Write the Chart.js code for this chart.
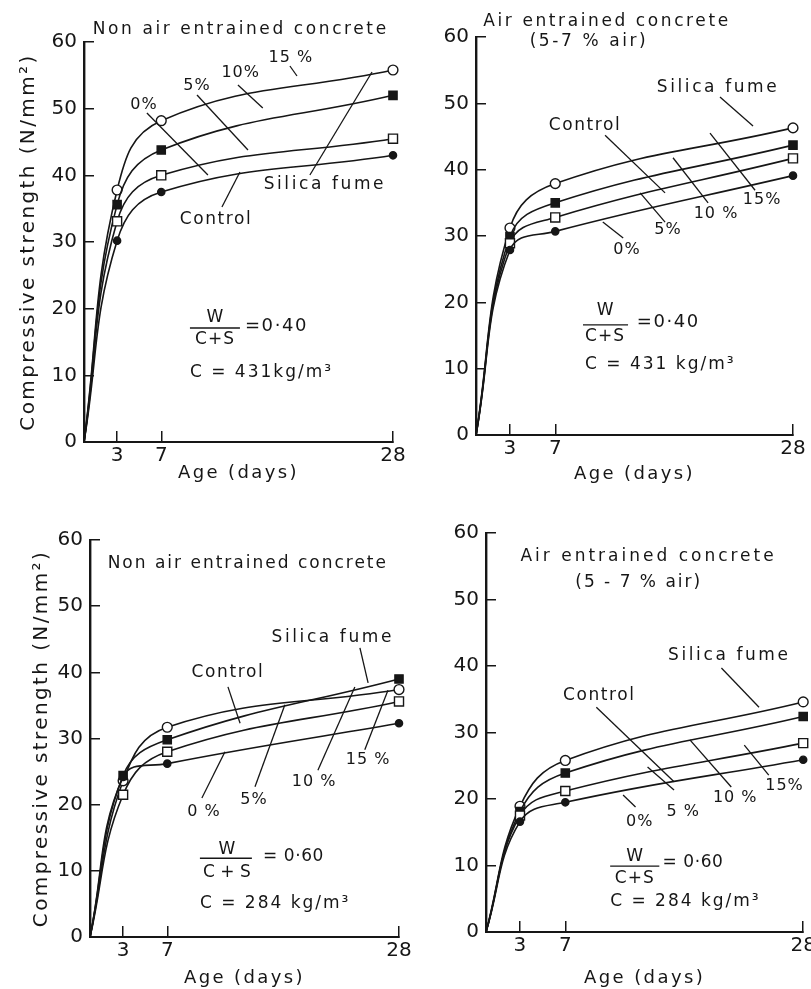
<!DOCTYPE html>
<html>
<head>
<meta charset="utf-8">
<title>Compressive strength development of silica fume concrete</title>
<script src="https://cdn.jsdelivr.net/npm/chart.js@4.4.1/dist/chart.umd.min.js"></script>
<style>
  html, body { margin: 0; padding: 0; background: #fff; }
  #sheet { position: relative; width: 811px; height: 989px; overflow: hidden; }
  #sheet canvas { position: absolute; left: 0; top: 0; }
</style>
</head>
<body>
<div id="sheet">
  <canvas id="p1" width="811" height="989"></canvas>
  <canvas id="p2" width="811" height="989"></canvas>
  <canvas id="p3" width="811" height="989"></canvas>
  <canvas id="p4" width="811" height="989"></canvas>
</div>
<script>
// ages and axis ticks
const days = [0, 3, 7, 28];
const xTicks = [3, 7, 28];
const yTicks = [0, 10, 20, 30, 40, 50, 60];
const mixes = ['0%', '5%', '10%', '15%'];   // silica fume replacement (0% = control)

// top left: non air entrained, W/(C+S) = 0.40
const a0  = [0, 30.2, 37.5, 43.0];
const a5  = [0, 33.1, 40.0, 45.5];
const a10 = [0, 35.6, 43.8, 52.0];
const a15 = [0, 37.8, 48.2, 55.8];

// top right: air entrained, W/(C+S) = 0.40
const b0  = [0, 27.9, 30.7, 39.1];
const b5  = [0, 28.9, 32.8, 41.7];
const b10 = [0, 29.9, 35.0, 43.7];
const b15 = [0, 31.2, 37.9, 46.3];

// bottom left: non air entrained, W/(C+S) = 0.60
const c0  = [0, 24.2, 26.2, 32.3];
const c5  = [0, 21.5, 28.0, 35.6];
const c10 = [0, 24.4, 29.8, 39.0];
const c15 = [0, 23.6, 31.7, 37.4];

// bottom right: air entrained, W/(C+S) = 0.60
const d0  = [0, 16.6, 19.5, 25.9];
const d5  = [0, 17.5, 21.2, 28.4];
const d10 = [0, 18.1, 23.9, 32.4];
const d15 = [0, 18.9, 25.8, 34.6];

const ink = '#161616';
Chart.defaults.font.family = '"DejaVu Sans", sans-serif';
Chart.defaults.color = ink;

const marks = [
  { style: 'circle', r: 3.6, fill: ink },
  { style: 'rect',   r: 6.4, fill: '#fff' },
  { style: 'rect',   r: 5.8, fill: ink },
  { style: 'circle', r: 4.9, fill: '#fff' }
];

// labels and leader lines, in (days, N/mm2)
const notesA = {
  labels: [
    { t: 'Non air entrained concrete', x: 14.2, y: 61.8, s: 17, sp: 2.6 },
    { t: '15 %', x: 18.75, y: 57.6, s: 16, sp: 1 },
    { t: '10%', x: 14.2, y: 55.35, s: 16, sp: 1 },
    { t: '5%', x: 10.24, y: 53.4, s: 16, sp: 1 },
    { t: '0%', x: 5.43, y: 50.55, s: 16, sp: 1 },
    { t: 'Silica fume', x: 21.83, y: 38.55, s: 17, sp: 2.6 },
    { t: 'Control', x: 11.96, y: 33.3, s: 17, sp: 1.6 },
    { t: 'W', x: 11.87, y: 18.7, s: 17, sp: 0 },
    { t: 'C+S', x: 11.87, y: 15.3, s: 17, sp: 1 },
    { t: '=0·40', x: 14.58, y: 17.4, s: 18, sp: 1.6, a: 'left' },
    { t: 'C = 431kg/m³', x: 9.6, y: 10.35, s: 17, sp: 2, a: 'left' }
  ],
  lines: [
    [18.66, 56.4, 19.3, 54.9], [13.95, 53.55, 16.2, 50.1], [10.24, 52.05, 14.86, 43.8],
    [5.7, 49.35, 11.23, 40.05], [20.47, 40.05, 26.1, 55.5], [12.5, 35.25, 14.13, 40.5],
    [9.6, 17.1, 14.13, 17.1]
  ]
};
const notesB = {
  labels: [
    { t: 'Air entrained concrete', x: 11.57, y: 62.3, s: 17, sp: 2.6 },
    { t: '(5-7 % air)', x: 9.98, y: 59.25, s: 17, sp: 2.6 },
    { t: 'Silica fume', x: 21.38, y: 52.3, s: 17, sp: 2.6 },
    { t: 'Control', x: 9.63, y: 46.6, s: 17, sp: 1.6 },
    { t: '15%', x: 25.27, y: 35.4, s: 16, sp: 1 },
    { t: '10 %', x: 21.2, y: 33.3, s: 16, sp: 1 },
    { t: '5%', x: 16.96, y: 30.9, s: 16, sp: 1 },
    { t: '0%', x: 13.34, y: 27.9, s: 16, sp: 1 },
    { t: 'W', x: 11.4, y: 18.7, s: 17, sp: 0 },
    { t: 'C+S', x: 11.4, y: 14.8, s: 17, sp: 1 },
    { t: '=0·40', x: 14.2, y: 17.0, s: 18, sp: 1.6, a: 'left' },
    { t: 'C = 431 kg/m³', x: 9.63, y: 10.55, s: 17, sp: 2, a: 'left' }
  ],
  lines: [
    [21.55, 50.96, 24.47, 46.59], [11.4, 45.2, 16.7, 36.5], [24.65, 36.9, 20.67, 45.5],
    [20.5, 35, 17.4, 41.8], [16.7, 32.1, 14.5, 36.5], [13, 29.7, 11.2, 32.1],
    [9.45, 16.6, 13.43, 16.6]
  ]
};
const notesC = {
  labels: [
    { t: 'Non air entrained concrete', x: 14.3, y: 56.5, s: 17, sp: 2 },
    { t: 'Silica fume', x: 22.0, y: 45.3, s: 17, sp: 2.6 },
    { t: 'Control', x: 12.5, y: 39.9, s: 17, sp: 1.6 },
    { t: '15 %', x: 25.2, y: 26.75, s: 16, sp: 1 },
    { t: '10 %', x: 20.3, y: 23.4, s: 16, sp: 1 },
    { t: '5%', x: 14.86, y: 20.7, s: 16, sp: 1 },
    { t: '0 %', x: 10.33, y: 18.9, s: 16, sp: 1 },
    { t: 'W', x: 12.4, y: 13.2, s: 17, sp: 0 },
    { t: 'C + S', x: 12.4, y: 9.8, s: 17, sp: 0 },
    { t: '= 0·60', x: 15.67, y: 12.1, s: 17, sp: 0.6, a: 'left' },
    { t: 'C = 284 kg/m³', x: 9.96, y: 5.0, s: 17, sp: 2, a: 'left' }
  ],
  lines: [
    [24.46, 43.7, 25.2, 38.4], [12.5, 37.8, 13.6, 32.3], [24.9, 28.3, 27.0, 37.3],
    [20.65, 25.2, 24.0, 37.8], [14.95, 22.7, 17.66, 35.1], [10.14, 21, 12.23, 28],
    [9.96, 11.9, 14.67, 11.9]
  ]
};
const notesD = {
  labels: [
    { t: 'Air entrained concrete', x: 14.35, y: 56.5, s: 17, sp: 3 },
    { t: '(5 - 7 % air)', x: 13.48, y: 52.5, s: 17, sp: 2 },
    { t: 'Silica fume', x: 21.48, y: 41.5, s: 17, sp: 2.6 },
    { t: 'Control', x: 10, y: 35.5, s: 17, sp: 1.6 },
    { t: '15%', x: 26.35, y: 22.0, s: 16, sp: 1 },
    { t: '10 %', x: 22.0, y: 20.15, s: 16, sp: 1 },
    { t: '5 %', x: 17.4, y: 18.05, s: 16, sp: 1 },
    { t: '0%', x: 13.57, y: 16.5, s: 16, sp: 1 },
    { t: 'W', x: 13.13, y: 11.4, s: 17, sp: 0 },
    { t: 'C+S', x: 13.13, y: 8.1, s: 17, sp: 1 },
    { t: '= 0·60', x: 15.57, y: 10.4, s: 17, sp: 0.6, a: 'left' },
    { t: 'C = 284 kg/m³', x: 10.96, y: 4.5, s: 17, sp: 2, a: 'left' }
  ],
  lines: [
    [20.78, 39.7, 24.1, 33.8], [9.74, 33.8, 16.6, 22.6], [24.96, 23.6, 22.8, 28.1],
    [21.65, 21.8, 18.0, 28.9], [16.6, 21.35, 14.26, 24.8], [13.2, 18.8, 12.1, 20.6],
    [10.96, 9.9, 15.3, 9.9]
  ]
};

// page placement of each plot area (px)
const panels = [
  { id: 'p1', vals: [a0, a5, a10, a15], l: 84,  t: 42,  r: 393, b: 442, xh: 42, yTitle: 17, notes: notesA },
  { id: 'p2', vals: [b0, b5, b10, b15], l: 476, t: 37,  r: 793, b: 435, xh: 50, yTitle: null, notes: notesB },
  { id: 'p3', vals: [c0, c5, c10, c15], l: 90,  t: 540, r: 399, b: 937, xh: 52, yTitle: 30, notes: notesC },
  { id: 'p4', vals: [d0, d5, d10, d15], l: 486, t: 533, r: 808, b: 932, xh: 57, yTitle: null, notes: notesD }
];

function zeroPad(s) {
  s.paddingLeft = 0; s.paddingRight = 0; s.paddingTop = 0; s.paddingBottom = 0;
}

function notesPlugin(notes) {
  return {
    id: 'notes',
    beforeDraw(chart) { chart.ctx.letterSpacing = '2.4px'; },      // axis titles
    afterDatasetsDraw(chart) { chart.ctx.letterSpacing = '0px'; }, // tick labels
    afterDraw(chart) {
      const ctx = chart.ctx, sx = chart.scales.x, sy = chart.scales.y;
      const X = v => sx.getPixelForValue(v), Y = v => sy.getPixelForValue(v);
      ctx.save();
      ctx.strokeStyle = ink;
      ctx.lineWidth = 1.3;
      notes.lines.forEach(([x1, y1, x2, y2]) => {
        ctx.beginPath();
        ctx.moveTo(X(x1), Y(y1));
        ctx.lineTo(X(x2), Y(y2));
        ctx.stroke();
      });
      ctx.fillStyle = ink;
      ctx.textBaseline = 'middle';
      notes.labels.forEach(n => {
        ctx.font = n.s + 'px "DejaVu Sans"';
        ctx.letterSpacing = n.sp + 'px';
        ctx.textAlign = n.a || 'center';
        ctx.fillText(n.t, X(n.x), Y(n.y));
      });
      ctx.restore();
    }
  };
}

function makeChart(p) {
  const datasets = mixes.map((m, i) => ({
    label: m,
    data: days.map((d, j) => ({ x: d, y: p.vals[i][j] })),
    borderColor: ink,
    borderWidth: 1.6,
    tension: 0.42,
    pointStyle: marks[i].style,
    pointRadius: c => c.dataIndex === 0 ? 0 : marks[i].r,
    pointBackgroundColor: marks[i].fill,
    pointBorderColor: ink,
    pointBorderWidth: 1.4,
    clip: false
  }));

  return new Chart(document.getElementById(p.id), {
    type: 'line',
    data: { datasets },
    options: {
      responsive: false,
      animation: false,
      devicePixelRatio: 1,
      layout: { padding: { left: 0, top: p.t, right: 811 - p.r, bottom: Math.max(0, 989 - p.b - p.xh) } },
      plugins: { legend: { display: false }, tooltip: { enabled: false } },
      scales: {
        x: {
          type: 'linear', min: 0, max: 28,
          afterBuildTicks: s => { s.ticks = xTicks.map(v => ({ value: v })); },
          afterFit: s => { s.height = p.xh; zeroPad(s); },
          border: { color: ink, width: 2 },
          grid: { drawOnChartArea: false, tickLength: -11, tickColor: ink, lineWidth: 1.5 },
          ticks: { padding: 13, font: { size: 20 }, color: ink, z: 1, maxRotation: 0, autoSkip: false },
          title: { display: true, text: 'Age (days)', font: { size: 18 }, color: ink, padding: { top: 0, bottom: 0 } }
        },
        y: {
          type: 'linear', min: 0, max: 60,
          afterBuildTicks: s => { s.ticks = yTicks.map(v => ({ value: v })); },
          afterFit: s => { s.width = p.l; zeroPad(s); },
          border: { color: ink, width: 2.4 },
          grid: { drawOnChartArea: false, tickLength: -10, tickColor: ink, lineWidth: 1.5 },
          ticks: { padding: 17, font: { size: 20 }, color: ink, z: 1 },
          title: {
            display: p.yTitle !== null,
            text: 'Compressive strength (N/mm²)',
            font: { size: 20 }, color: ink,
            padding: { top: p.yTitle || 0, bottom: 0 }
          }
        }
      }
    },
    plugins: [notesPlugin(p.notes)]
  });
}

panels.forEach(makeChart);
</script>
</body>
</html>
